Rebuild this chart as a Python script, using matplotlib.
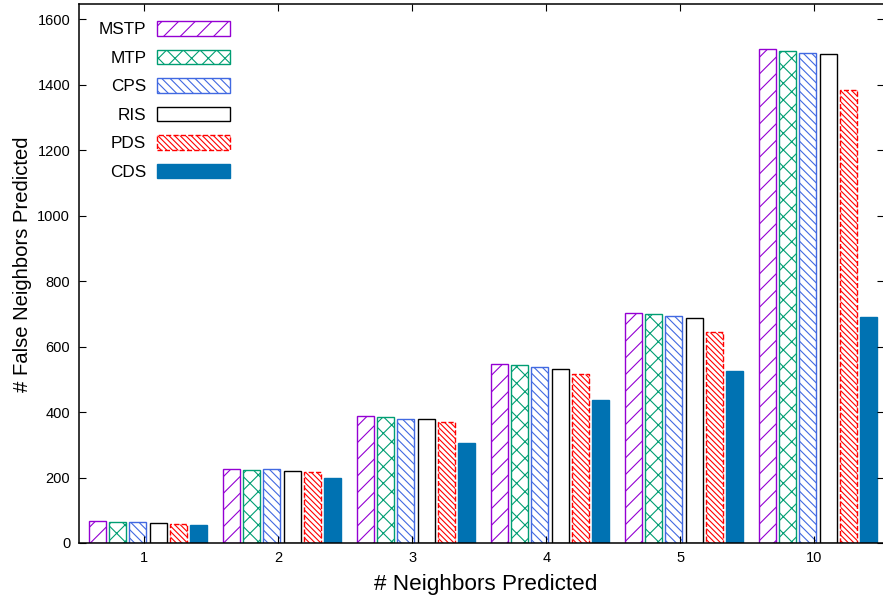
import numpy as np
import matplotlib.pyplot as plt

plt.rcParams['font.family'] = ['Liberation Sans', 'DejaVu Sans']
plt.rcParams['hatch.linewidth'] = 0.8

# data
groups = ['1', '2', '3', '4', '5', '10']
methods = ['MSTP', 'MTP', 'CPS', 'RIS', 'PDS', 'CDS']
mstp = [67, 226, 388, 547, 702, 1508]
mtp = [64, 223, 385, 543, 699, 1503]
cps = [63, 226, 379, 537, 693, 1498]
ris = [60, 220, 379, 531, 689, 1495]
pds = [57, 217, 370, 516, 645, 1385]
cds = [55, 198, 305, 437, 526, 691]
series = [mstp, mtp, cps, ris, pds, cds]

styles = [
    dict(facecolor='none', edgecolor='#9400D3', hatch='//'),
    dict(facecolor='none', edgecolor='#009E73', hatch='xx'),
    dict(facecolor='none', edgecolor='#4169E1', hatch='\\\\\\\\'),
    dict(facecolor='none', edgecolor='black', hatch=None),
    dict(facecolor='none', edgecolor='#FF0000', hatch='\\\\\\\\\\\\', linestyle='--'),
    dict(facecolor='#0072B2', edgecolor='#0072B2', hatch=None),
]

fig = plt.figure(figsize=(8.83, 6), dpi=100)
ax = fig.add_axes([78.5 / 883, 57 / 600, (884 - 78.5) / 883, (543 - 4) / 600])

x = np.arange(len(groups))
step = 0.1507
width = 0.127
for i, (vals, st) in enumerate(zip(series, styles)):
    ax.bar(x + (i - 2.5) * step, vals, width, linewidth=1.0, label=methods[i], **st)

ax.set_xlim(-0.519, 5.493)
ax.set_ylim(0, 1647)
# gnuplot puts the group ticks a few pixels left of the bar centres
ax.set_xticks(x - 0.028)
ax.set_xticklabels(groups)
ax.set_yticks(np.arange(0, 1601, 200))
ax.tick_params(direction='in', length=5, width=0.8, labelsize=10.5,
               top=True, right=True, pad=6, colors='black')
for s in ax.spines.values():
    s.set_linewidth(1.1)

ax.set_xlabel('# Neighbors Predicted', fontsize=16.2)
ax.set_ylabel('# False Neighbors Predicted', fontsize=14.6)
ax.xaxis.set_label_coords(0.5053, -0.058)
ax.yaxis.set_label_coords(-0.0577, 0.5176)

leg = ax.legend(loc='upper right', bbox_to_anchor=(238.5 / 883, 1 - 12.5 / 600),
                bbox_transform=fig.transFigure, frameon=False, markerfirst=False,
                fontsize=12.3, handlelength=4.3, handleheight=0.95,
                labelspacing=0.72, handletextpad=0.6, borderpad=0)

fig.savefig('out.png', dpi=100)
